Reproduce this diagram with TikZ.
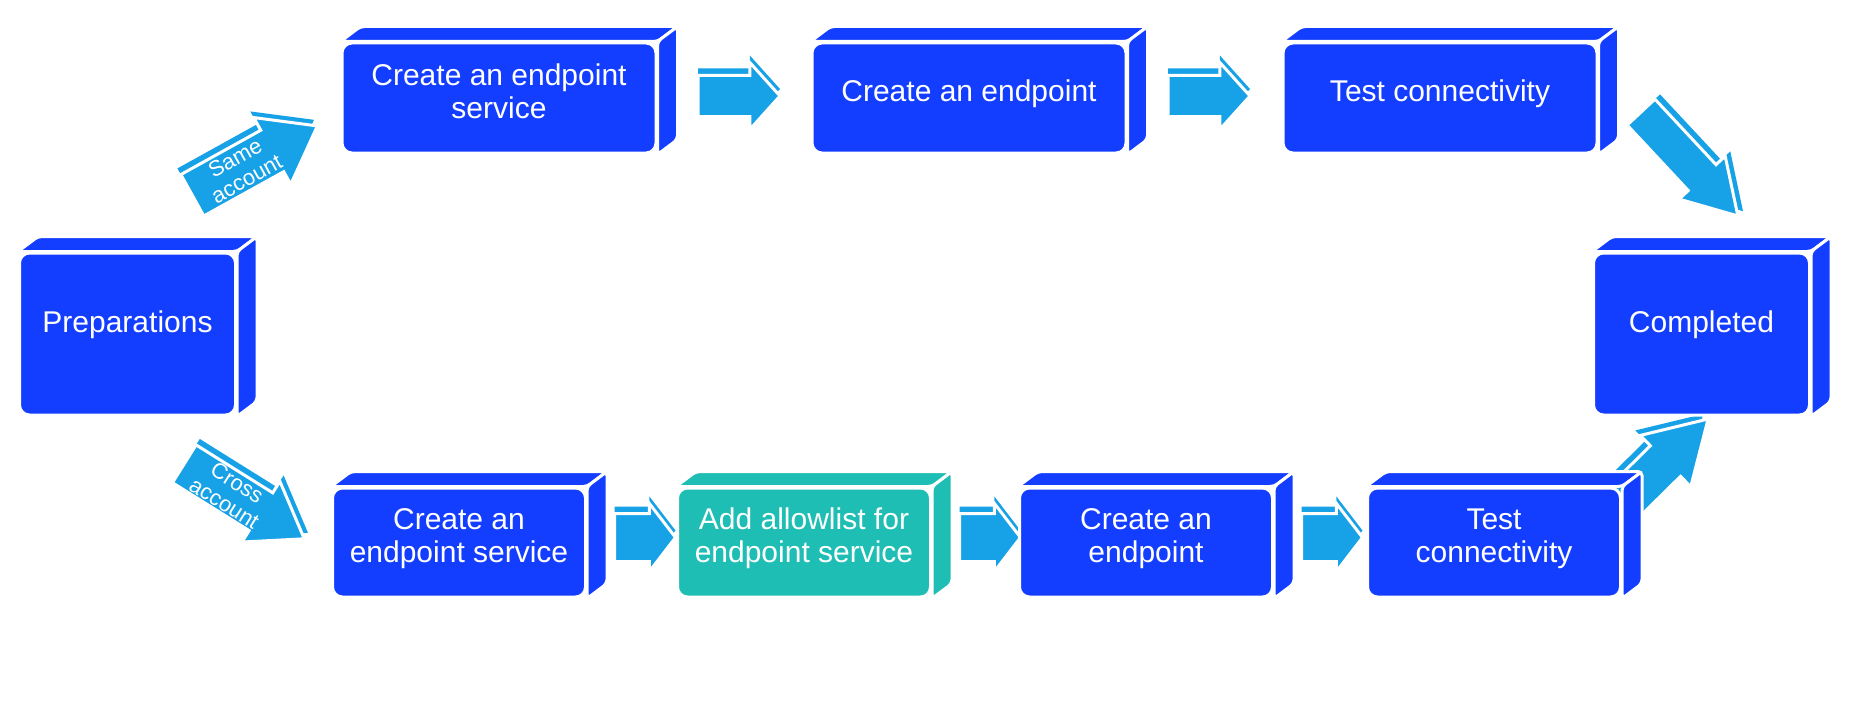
\documentclass[tikz,border=0pt]{standalone}
\usepackage{fontspec}
\setmainfont{Liberation Sans}
\usetikzlibrary{shapes.arrows,calc,backgrounds}
\definecolor{boxblue}{RGB}{20,62,255}
\definecolor{allowteal}{RGB}{30,190,180}
\definecolor{arrowblue}{RGB}{23,161,230}

\begin{document}
\begin{tikzpicture}[x=0.5pt, y=0.5pt,
  box/.style={rectangle, rounded corners=5pt, fill=boxblue, draw=white, line width=1.5pt, text=white, align=center, inner sep=0pt, font=\fontsize{15}{16.5}\selectfont},
  stepbox/.style={box, minimum width=157pt, minimum height=55pt, text depth=7pt},
  lowbox/.style={box, minimum width=126.5pt, minimum height=54.5pt, text depth=7pt},
  endbox/.style={box, minimum width=108pt, minimum height=81pt, text depth=12pt},
  face/.style={draw=white, line width=1.5pt, rounded corners=2pt},
  flow/.style={single arrow, fill=arrowblue, draw=white, line width=1.5pt, anchor=tail, inner xsep=0pt, minimum width=0pt, rotate=#1, text=white, align=center, font=\fontsize{11}{12}\selectfont, preaction={fill=arrowblue, transform canvas={shift={(#1+90:3.5pt)}}}},
  topflow/.style={flow=0, minimum height=41pt, inner ysep=9.5pt, single arrow head extend=6.5pt, single arrow tip angle=96},
  lowflow/.style={flow=0, minimum height=30.5pt, inner ysep=11.25pt, single arrow head extend=5pt, single arrow tip angle=105}]
\useasboundingbox (0,0) rectangle (1862,714);
\node[endbox] (prep) at (127.5,380) {Preparations};
\node[endbox] (done) at (1701.5,380) {Completed};
\node[stepbox] (t1) at (499,616) {Create an endpoint\\service};
\node[stepbox] (t2) at (969,616) {Create an endpoint};
\node[stepbox] (t3) at (1440,616) {Test connectivity};
\node[lowbox] (b1) at (459,171.5) {Create an\\endpoint service};
\node[lowbox, fill=allowteal] (b2) at (804,171.5) {Add allowlist for\\endpoint service};
\node[lowbox] (b3) at (1146,171.5) {Create an\\endpoint};
\node[lowbox] (b4) at (1494,171.5) {Test\\connectivity};
\begin{scope}[on background layer]
\node[flow=29, minimum height=71.5pt, inner ysep=1.2pt, single arrow head extend=7.25pt, single arrow tip angle=73] (same) at (191,518) {Same\\account};
\node[flow=-32, minimum height=70.75pt, inner ysep=0.5pt, single arrow head extend=6.75pt, single arrow tip angle=70] (cross) at (183,251) {Cross\\account};
\node[topflow] (a1) at ($(t1.east)+(39,2)$) {};
\node[topflow] (a2) at ($(t2.east)+(39,2)$) {};
\node[flow=-47, minimum height=71pt, inner ysep=8.75pt, single arrow head extend=6.25pt, single arrow tip angle=62] (a3) at (1640,603) {};
\node[lowflow] (c1) at ($(b1.east)+(26,5)$) {};
\node[lowflow] (c2) at ($(b2.east)+(26,5)$) {};
\node[lowflow] (c3) at ($(b3.east)+(26,5)$) {};
\node[flow=44.6, minimum height=60pt, inner ysep=10pt, single arrow head extend=7.25pt, single arrow tip angle=62] (c4) at (1621.6,209.7) {};
\foreach \n/\c in {prep/boxblue, done/boxblue, t1/boxblue, t2/boxblue, t3/boxblue, b1/boxblue, b2/allowteal, b3/boxblue, b4/boxblue} {
  \filldraw[face, fill=\c] (\n.north west) -- ++(20,15) -- ($(\n.north east)+(20,15)$) -- (\n.north east) -- cycle;
  \filldraw[face, fill=\c] (\n.north east) -- ++(20,15) -- ($(\n.south east)+(20,15)$) -- (\n.south east) -- cycle;
}
\end{scope}
\end{tikzpicture}
\end{document}
